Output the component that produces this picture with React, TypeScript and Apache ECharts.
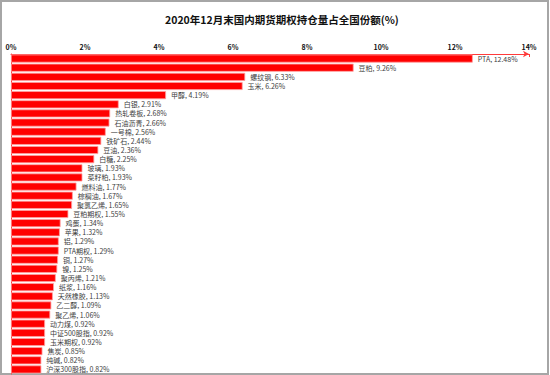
import React, { useEffect, useRef } from "react";
import * as echarts from "echarts";

const categories = [
  "PTA", "豆粕", "螺纹钢", "玉米", "甲醇", "白银", "热轧卷板", "石油沥青", "一号棉", "铁矿石",
  "豆油", "白糖", "玻璃", "菜籽粕", "燃料油", "棕榈油", "聚氯乙烯", "豆粕期权", "鸡蛋", "苹果",
  "铝", "PTA期权", "铜", "镍", "聚丙烯", "纸浆", "天然橡胶", "乙二醇", "聚乙烯", "动力煤",
  "中证500股指", "玉米期权", "焦炭", "纯碱", "沪深300股指",
];
const values = [
  12.48, 9.26, 6.33, 6.26, 4.19, 2.91, 2.68, 2.66, 2.56, 2.44,
  2.36, 2.25, 1.93, 1.93, 1.77, 1.67, 1.65, 1.55, 1.34, 1.32,
  1.29, 1.29, 1.27, 1.25, 1.21, 1.16, 1.13, 1.09, 1.06, 0.92,
  0.92, 0.92, 0.85, 0.82, 0.82,
];
const titleText = "2020年12月末国内期货期权持仓量占全国份额(%)";

export default function App() {
  const ref = useRef<HTMLDivElement>(null);
  useEffect(() => {
    if (!ref.current) return;
    const chart = echarts.init(ref.current, null, { renderer: "svg" });
    const font = '"Noto Sans CJK SC", "Noto Sans", sans-serif';
    chart.setOption({
      animation: false,
      backgroundColor: "#fff",
      textStyle: { fontFamily: font },
      title: {
        text: titleText,
        left: 160,
        top: 9,
        textStyle: { fontSize: 10.5, fontWeight: "bold", color: "#111", fontFamily: font },
      },
      graphic: [
        {
          type: "rect",
          shape: { x: 1, y: 1, width: 547, height: 373 },
          style: { fill: "none", stroke: "#a6a6a6", lineWidth: 2 },
          silent: true,
        },
      ],
      grid: { left: 11, right: 21, top: 54, bottom: 1 },
      xAxis: {
        type: "value",
        position: "top",
        min: 0,
        max: 14,
        interval: 2,
        axisLine: {
          show: true,
          lineStyle: { color: "#ff3b3b", width: 1 },
          symbol: ["none", "arrow"],
          symbolSize: [5, 6],
        },
        axisTick: { show: true, inside: true, length: 3, lineStyle: { color: "#ff3b3b" } },
        axisLabel: {
          formatter: "{value}%",
          fontSize: 7,
          fontWeight: "bold",
          color: "#111",
          margin: 4,
        },
        splitLine: { show: false },
      },
      yAxis: {
        type: "category",
        data: categories,
        inverse: true,
        axisLine: { show: true, lineStyle: { color: "#ff3b3b" } },
        axisTick: { show: false },
        axisLabel: { show: false },
      },
      series: [
        {
          type: "bar",
          data: values,
          barCategoryGap: "12%",
          itemStyle: { color: "#ff0000", borderColor: "#ffa0a0", borderWidth: 0.8 },
          label: {
            show: true,
            position: "right",
            distance: 5,
            formatter: (p: any) => `${p.name}, ${p.value.toFixed(2)}%`,
            fontSize: 7,
            color: "#404040",
            fontFamily: font,
          },
        },
      ],
    });
    return () => chart.dispose();
  }, []);
  return (
    <div
      ref={ref}
      style={{ position: "fixed", left: 0, top: 0, width: 550, height: 375 }}
    />
  );
}
